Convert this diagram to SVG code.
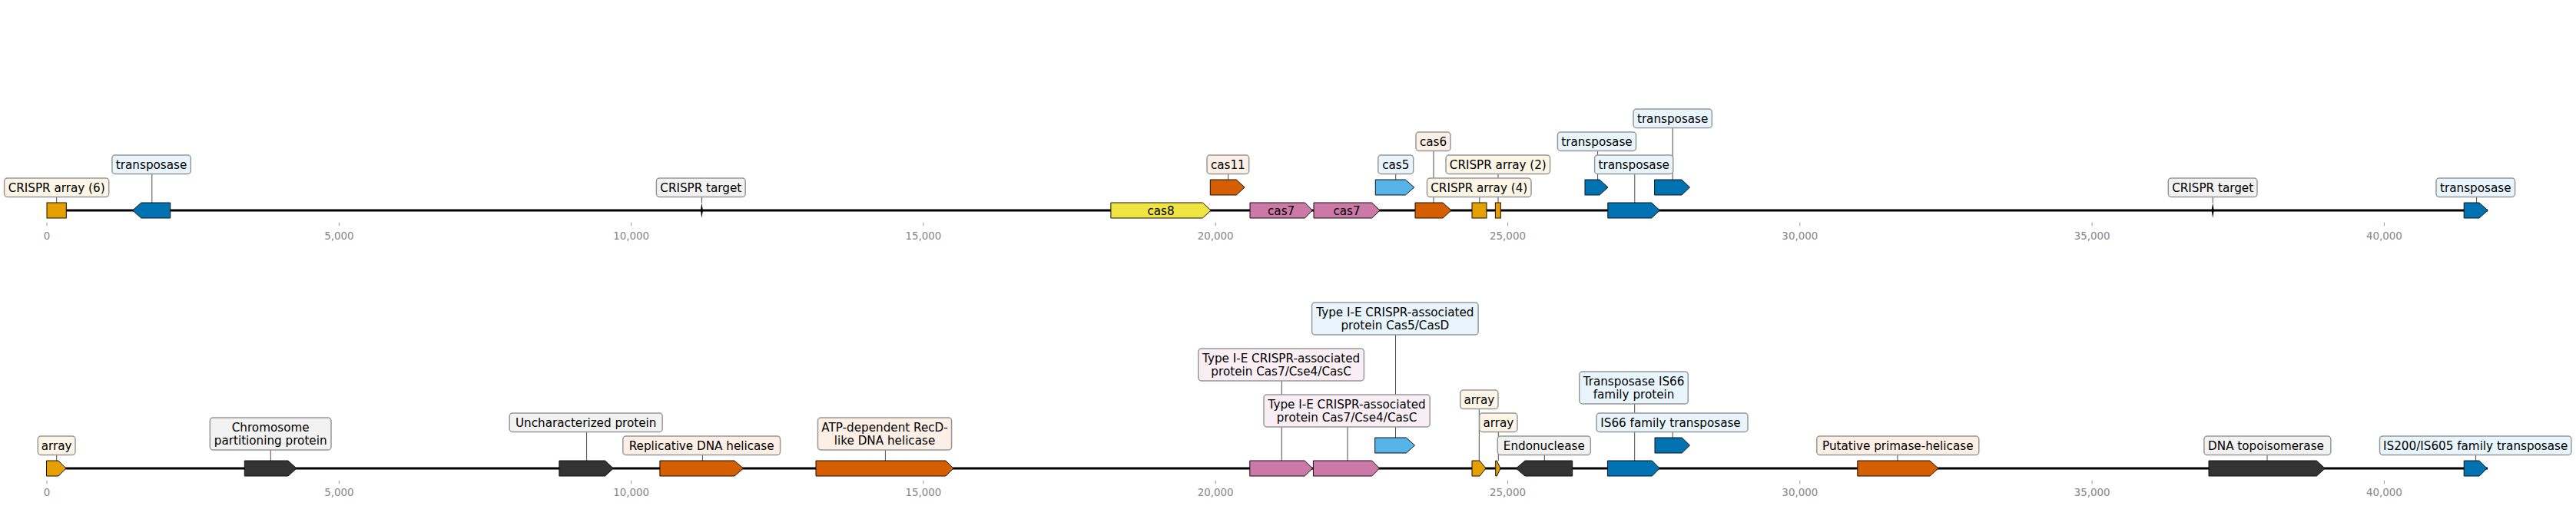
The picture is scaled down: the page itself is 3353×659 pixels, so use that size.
<svg xmlns="http://www.w3.org/2000/svg" width="3353" height="659" viewBox="0 0 3353 659">
<style>
.bg{fill:#ffffff}
.bb{stroke:#000;stroke-width:2.8;fill:none}
.tk{stroke:#999;stroke-width:1}
.tl{font-family:'DejaVu Sans','Liberation Sans',sans-serif;font-size:13.4px;fill:#858585;text-anchor:middle}
.cn{stroke:#4a4a4a;stroke-width:1;fill:none}
.f{stroke:#111;stroke-width:1;stroke-linejoin:miter}
.o{fill:#E69F00}.v{fill:#D55E00}.b{fill:#0072B2}.s{fill:#56B4E9}.p{fill:#CC79A7}.y{fill:#F0E442}.k{fill:#333333}
.lb{stroke:#989898;stroke-width:1.5}
.lo{fill:#fdf6e7}.lv{fill:#fcefe6}.lbl{fill:#e8f5fc}.lp{fill:#f9eef4}.lk{fill:#f2f2f2}
.t{font-family:'DejaVu Sans','Liberation Sans',sans-serif;font-size:15.2px;fill:#000;text-anchor:middle}
</style>
<rect class="bg" x="0" y="0" width="3353" height="659"/>
<g id="axes">
<line class="bb" x1="61" y1="274" x2="3238" y2="274"/>
<line class="bb" x1="61" y1="610" x2="3238" y2="610"/>
<g class="tk">
<line x1="61" y1="289.7" x2="61" y2="294.3"/><line x1="441.3" y1="289.7" x2="441.3" y2="294.3"/><line x1="821.6" y1="289.7" x2="821.6" y2="294.3"/><line x1="1201.9" y1="289.7" x2="1201.9" y2="294.3"/><line x1="1582.2" y1="289.7" x2="1582.2" y2="294.3"/><line x1="1962.5" y1="289.7" x2="1962.5" y2="294.3"/><line x1="2342.8" y1="289.7" x2="2342.8" y2="294.3"/><line x1="2723.1" y1="289.7" x2="2723.1" y2="294.3"/><line x1="3103.4" y1="289.7" x2="3103.4" y2="294.3"/>
<line x1="61" y1="625.7" x2="61" y2="630.3"/><line x1="441.3" y1="625.7" x2="441.3" y2="630.3"/><line x1="821.6" y1="625.7" x2="821.6" y2="630.3"/><line x1="1201.9" y1="625.7" x2="1201.9" y2="630.3"/><line x1="1582.2" y1="625.7" x2="1582.2" y2="630.3"/><line x1="1962.5" y1="625.7" x2="1962.5" y2="630.3"/><line x1="2342.8" y1="625.7" x2="2342.8" y2="630.3"/><line x1="2723.1" y1="625.7" x2="2723.1" y2="630.3"/><line x1="3103.4" y1="625.7" x2="3103.4" y2="630.3"/>
</g>
<g class="tl">
<text x="61" y="311.5">0</text><text x="441.3" y="311.5">5,000</text><text x="821.6" y="311.5">10,000</text><text x="1201.9" y="311.5">15,000</text><text x="1582.2" y="311.5">20,000</text><text x="1962.5" y="311.5">25,000</text><text x="2342.8" y="311.5">30,000</text><text x="2723.1" y="311.5">35,000</text><text x="3103.4" y="311.5">40,000</text>
<text x="61" y="646">0</text><text x="441.3" y="646">5,000</text><text x="821.6" y="646">10,000</text><text x="1201.9" y="646">15,000</text><text x="1582.2" y="646">20,000</text><text x="1962.5" y="646">25,000</text><text x="2342.8" y="646">30,000</text><text x="2723.1" y="646">35,000</text><text x="3103.4" y="646">40,000</text>
</g>
</g>
<g id="connectors" class="cn">
<line x1="73.7" y1="256.5" x2="73.7" y2="264"/>
<line x1="197.8" y1="226.5" x2="197.8" y2="264"/>
<line x1="913.4" y1="256.5" x2="913.4" y2="264"/>
<line x1="1598.7" y1="226.5" x2="1598.7" y2="234"/>
<line x1="1816.7" y1="226.5" x2="1816.7" y2="234"/>
<line x1="1866" y1="196.5" x2="1866" y2="264"/>
<line x1="1925.8" y1="256.5" x2="1925.8" y2="264"/>
<line x1="1950" y1="226.5" x2="1950" y2="264"/>
<line x1="2079.6" y1="196.5" x2="2079.6" y2="234"/>
<line x1="2127.8" y1="226.5" x2="2127.8" y2="264"/>
<line x1="2177.2" y1="166.5" x2="2177.2" y2="234"/>
<line x1="2880.2" y1="256.5" x2="2880.2" y2="264"/>
<line x1="3223.6" y1="256.5" x2="3223.6" y2="264"/>
<line x1="73.7" y1="592.5" x2="73.7" y2="600"/>
<line x1="352.3" y1="586" x2="352.3" y2="600"/>
<line x1="763.6" y1="562.5" x2="763.6" y2="600"/>
<line x1="914.4" y1="592.5" x2="914.4" y2="600"/>
<line x1="1152.4" y1="586" x2="1152.4" y2="600"/>
<line x1="1668.3" y1="496" x2="1668.3" y2="600"/>
<line x1="1754" y1="556" x2="1754" y2="600"/>
<line x1="1816.5" y1="436" x2="1816.5" y2="570"/>
<line x1="1925.3" y1="532.5" x2="1925.3" y2="600"/>
<line x1="1950.3" y1="562.5" x2="1950.3" y2="600"/>
<line x1="2010.3" y1="592.5" x2="2010.3" y2="600"/>
<line x1="2127.7" y1="526" x2="2127.7" y2="600"/>
<line x1="2177.2" y1="562.5" x2="2177.2" y2="570"/>
<line x1="2469.9" y1="592.5" x2="2469.9" y2="600"/>
<line x1="2951" y1="592.5" x2="2951" y2="600"/>
<line x1="3222.6" y1="592.5" x2="3222.6" y2="600"/>
</g>
<!-- Track 1 -->
<g id="t1-crispr-array-6"><rect class="f o" x="61" y="264" width="25.3" height="20"/><rect class="lb lo" x="5.6" y="232" width="136.1" height="24.5" rx="4"/><text class="t" x="73.65" y="249.7">CRISPR array (6)</text></g>
<g id="t1-transposase-1"><polygon class="f b" points="172.6,274 183.8,264 221.7,264 221.7,284 183.8,284"/><rect class="lb lbl" x="145.9" y="202" width="102.4" height="24.5" rx="4"/><text class="t" x="197.1" y="219.7">transposase</text></g>
<g id="t1-crispr-target-1"><polygon fill="#000" points="913.4,264 914.9,274 913.4,284 911.9,274"/><rect class="lb lk" x="854.4" y="232" width="115.8" height="24.5" rx="4"/><text class="t" x="912.3" y="249.7">CRISPR target</text></g>
<g id="t1-cas8"><polygon class="f y" points="1445.9,264 1565.3,264 1576.2,274 1565.3,284 1445.9,284"/><text class="t" x="1511" y="279.5">cas8</text></g>
<g id="t1-cas11"><polygon class="f v" points="1575.3,234 1609.3,234 1620,244 1609.3,254 1575.3,254"/><rect class="lb lv" x="1571" y="202" width="54.7" height="24.5" rx="4"/><text class="t" x="1598.35" y="219.7">cas11</text></g>
<g id="t1-cas7-1"><polygon class="f p" points="1627,264 1698.5,264 1708.2,274 1698.5,284 1627,284"/><text class="t" x="1667.6" y="279.5">cas7</text></g>
<g id="t1-cas7-2"><polygon class="f p" points="1710,264 1785.7,264 1796,274 1785.7,284 1710,284"/><text class="t" x="1753" y="279.5">cas7</text></g>
<g id="t1-cas5"><polygon class="f s" points="1790.3,234 1829.3,234 1840.8,244 1829.3,254 1790.3,254"/><rect class="lb lbl" x="1793.8" y="202" width="45.9" height="24.5" rx="4"/><text class="t" x="1816.75" y="219.7">cas5</text></g>
<g id="t1-cas6"><polygon class="f v" points="1842,264 1878,264 1889,274 1878,284 1842,284"/><rect class="lb lv" x="1843" y="172" width="45" height="24.5" rx="4"/><text class="t" x="1865.5" y="189.7">cas6</text></g>
<g id="t1-crispr-array-2"><rect class="f o" x="1946.4" y="264" width="6.9" height="20"/><rect class="lb lo" x="1882" y="202" width="135.6" height="24.5" rx="4"/><text class="t" x="1949.8" y="219.7">CRISPR array (2)</text></g>
<g id="t1-crispr-array-4"><rect class="f o" x="1916" y="264" width="19" height="20"/><rect class="lb lo" x="1857.5" y="232" width="135.5" height="24.5" rx="4"/><text class="t" x="1925.25" y="249.7">CRISPR array (4)</text></g>
<g id="t1-transposase-2"><polygon class="f b" points="2063,234 2082,234 2093,244 2082,254 2063,254"/><rect class="lb lbl" x="2027.4" y="172" width="102.1" height="24.5" rx="4"/><text class="t" x="2078.45" y="189.7">transposase</text></g>
<g id="t1-transposase-3"><polygon class="f b" points="2092.8,264 2149.6,264 2160.5,274 2149.6,284 2092.8,284"/><rect class="lb lbl" x="2075.6" y="202" width="102.2" height="24.5" rx="4"/><text class="t" x="2126.7" y="219.7">transposase</text></g>
<g id="t1-transposase-4"><polygon class="f b" points="2153.6,234 2189,234 2199.5,244 2189,254 2153.6,254"/><rect class="lb lbl" x="2126" y="142" width="102.3" height="24.5" rx="4"/><text class="t" x="2177.15" y="159.7">transposase</text></g>
<g id="t1-crispr-target-2"><polygon fill="#000" points="2880.2,264 2881.7,274 2880.2,284 2878.7,274"/><rect class="lb lk" x="2822.3" y="232" width="115.7" height="24.5" rx="4"/><text class="t" x="2880.15" y="249.7">CRISPR target</text></g>
<g id="t1-transposase-5"><polygon class="f b" points="3207.2,264 3227,264 3238.2,274 3227,284 3207.2,284"/><rect class="lb lbl" x="3171" y="232" width="102.6" height="24.5" rx="4"/><text class="t" x="3222.3" y="249.7">transposase</text></g>
<!-- Track 2 -->
<g id="t2-array-1"><polygon class="f o" points="60.5,600 76,600 86,610 76,620 60.5,620"/><rect class="lb lo" x="49.3" y="568" width="48.7" height="24.5" rx="4"/><text class="t" x="73.65" y="585.7">array</text></g>
<g id="t2-chromosome-partitioning"><polygon class="f k" points="318.3,600 375,600 386,610 375,620 318.3,620"/><rect class="lb lk" x="273.3" y="544" width="157.7" height="42" rx="4"/><text class="t" x="352.15" y="562">Chromosome</text><text class="t" x="352.15" y="579.3">partitioning protein</text></g>
<g id="t2-uncharacterized"><polygon class="f k" points="727.9,600 787.6,600 798.4,610 787.6,620 727.9,620"/><rect class="lb lk" x="663.2" y="538" width="199" height="24.5" rx="4"/><text class="t" x="762.7" y="555.7">Uncharacterized protein</text></g>
<g id="t2-replicative-helicase"><polygon class="f v" points="858.9,600 956,600 967.5,610 956,620 858.9,620"/><rect class="lb lv" x="810.8" y="568" width="204.8" height="24.5" rx="4"/><text class="t" x="913.2" y="585.7">Replicative DNA helicase</text></g>
<g id="t2-recd-helicase"><polygon class="f v" points="1062,600 1231,600 1241,610 1231,620 1062,620"/><rect class="lb lv" x="1064.5" y="544" width="174.1" height="42" rx="4"/><text class="t" x="1151.55" y="562">ATP-dependent RecD-</text><text class="t" x="1151.55" y="579.3">like DNA helicase</text></g>
<g id="t2-cas7-1"><polygon class="f p" points="1626.8,600 1698.2,600 1708.5,610 1698.2,620 1626.8,620"/><rect class="lb lp" x="1559.8" y="454" width="215.6" height="42" rx="4"/><text class="t" x="1667.6" y="472">Type I-E CRISPR-associated</text><text class="t" x="1667.6" y="489.3">protein Cas7/Cse4/CasC</text></g>
<g id="t2-cas5"><polygon class="f s" points="1789.7,570 1830.4,570 1841.5,580 1830.4,590 1789.7,590"/><rect class="lb lbl" x="1707.6" y="394" width="216.5" height="42" rx="4"/><text class="t" x="1815.85" y="412">Type I-E CRISPR-associated</text><text class="t" x="1815.85" y="429.3">protein Cas5/CasD</text></g>
<g id="t2-cas7-2"><polygon class="f p" points="1709.4,600 1785.7,600 1795.5,610 1785.7,620 1709.4,620"/><rect class="lb lp" x="1645" y="514" width="216.2" height="42" rx="4"/><text class="t" x="1753.1" y="532">Type I-E CRISPR-associated</text><text class="t" x="1753.1" y="549.3">protein Cas7/Cse4/CasC</text></g>
<g id="t2-array-2"><polygon class="f o" points="1916,600 1926,600 1934,610 1926,620 1916,620"/><rect class="lb lo" x="1900.7" y="508" width="49.3" height="24.5" rx="4"/><text class="t" x="1925.35" y="525.7">array</text></g>
<g id="t2-array-3"><polygon class="f o" points="1946.7,600 1948.3,600 1953,610 1948.3,620 1946.7,620"/><rect class="lb lo" x="1925.7" y="538" width="49.3" height="24.5" rx="4"/><text class="t" x="1950.35" y="555.7">array</text></g>
<g id="t2-endonuclease"><polygon class="f k" points="1973.3,610 1985,600 2046.7,600 2046.7,620 1985,620"/><rect class="lb lk" x="1949.3" y="568" width="121" height="24.5" rx="4"/><text class="t" x="2009.8" y="585.7">Endonuclease</text></g>
<g id="t2-transposase-is66-protein"><polygon class="f b" points="2092.4,600 2150.4,600 2160.3,610 2150.4,620 2092.4,620"/><rect class="lb lbl" x="2055.8" y="484" width="141.5" height="42" rx="4"/><text class="t" x="2126.55" y="502">Transposase IS66</text><text class="t" x="2126.55" y="519.3">family protein</text></g>
<g id="t2-is66-transposase"><polygon class="f b" points="2154,570 2189.3,570 2199.5,580 2189.3,590 2154,590"/><rect class="lb lbl" x="2078.1" y="538" width="196.9" height="24.5" rx="4"/><text class="t" x="2174.5" y="555.7">IS66 family transposase</text></g>
<g id="t2-primase-helicase"><polygon class="f v" points="2417.8,600 2512,600 2522.9,610 2512,620 2417.8,620"/><rect class="lb lv" x="2364.8" y="568" width="211" height="24.5" rx="4"/><text class="t" x="2470.3" y="585.7">Putative primase-helicase</text></g>
<g id="t2-topoisomerase"><polygon class="f k" points="2875,600 3015.4,600 3026.2,610 3015.4,620 2875,620"/><rect class="lb lk" x="2868.9" y="568" width="164.9" height="24.5" rx="4"/><text class="t" x="2949.5" y="585.7">DNA topoisomerase</text></g>
<g id="t2-is200-transposase"><polygon class="f b" points="3207.2,600 3227.2,600 3237.2,610 3227.2,620 3207.2,620"/><rect class="lb lbl" x="3097.5" y="568" width="249.4" height="24.5" rx="4"/><text class="t" x="3222.2" y="585.7">IS200/IS605 family transposase</text></g>
</svg>
